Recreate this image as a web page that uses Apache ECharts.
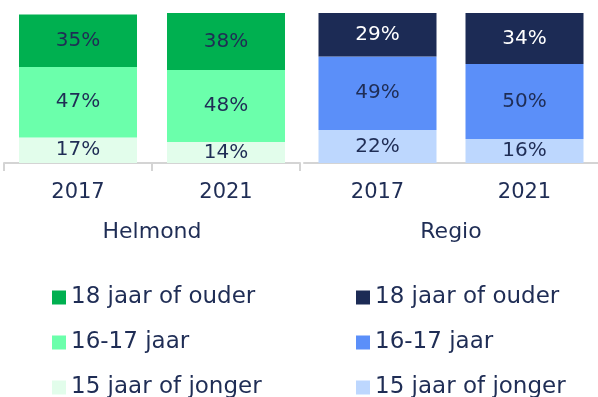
<!DOCTYPE html>
<html>
<head>
<meta charset="utf-8">
<style>
  html, body { margin: 0; padding: 0; background: #ffffff; }
  #chart { width: 598px; height: 397px; }
</style>
<script src="https://cdn.jsdelivr.net/npm/echarts@6/dist/echarts.min.js"></script>
</head>
<body>
<div id="chart"></div>
<script>
// Age of first use, shares per year, Helmond vs. region
const years = ['2017', '2021'];
const groups = ['Helmond', 'Regio'];
const ageClasses = ['18 jaar of ouder', '16-17 jaar', '15 jaar of jonger'];

const helmondYoung = [17, 14];
const helmondMid = [47, 48];
const helmondOld = [35, 38];

const regioYoung = [22, 16];
const regioMid = [49, 50];
const regioOld = [29, 34];

const helmondColors = ['#00b050', '#6bffab', '#e2fdeb'];
const regioColors = ['#1c2b55', '#5b8ff9', '#bdd7fe'];

const textColor = '#1f2d55';
const fontFamily = '"DejaVu Sans", sans-serif';

const chart = echarts.init(document.getElementById('chart'), null, { renderer: 'canvas' });

function bar(group, gridIdx, cls, values, color, labelColor) {
  return {
    type: 'bar',
    name: group + '|' + cls,
    stack: group,
    xAxisIndex: gridIdx * 2,
    yAxisIndex: gridIdx,
    data: values,
    barWidth: 118,
    itemStyle: { color: color },
    label: {
      show: true,
      position: 'inside',
      formatter: '{c}%',
      color: labelColor,
      fontSize: 20,
      fontFamily: fontFamily
    },
    emphasis: { disabled: true }
  };
}

function yearAxis(gridIdx, showTicks) {
  return {
    type: 'category',
    gridIndex: gridIdx,
    data: years,
    axisLine: { show: true, lineStyle: { color: '#d4d4d4', width: 2 } },
    axisTick: { show: showTicks, length: 8, lineStyle: { color: '#d4d4d4', width: 2 } },
    axisLabel: { color: textColor, fontSize: 21, fontFamily: fontFamily, margin: 19 }
  };
}

function groupAxis(gridIdx, name) {
  return {
    type: 'category',
    gridIndex: gridIdx,
    position: 'bottom',
    data: [name],
    axisLine: { show: false },
    axisTick: { show: false },
    axisLabel: { color: textColor, fontSize: 22, fontFamily: fontFamily, margin: 58 }
  };
}

function valueAxis(gridIdx) {
  return {
    type: 'value',
    gridIndex: gridIdx,
    min: 0,
    max: 100,
    show: false
  };
}

function legend(group, left) {
  return {
    orient: 'vertical',
    left: left,
    top: 286,
    height: 140,
    padding: 0,
    itemWidth: 14,
    itemHeight: 14,
    itemGap: 22,
    icon: 'rect',
    selectedMode: false,
    data: ageClasses.map(c => group + '|' + c),
    formatter: name => name.split('|')[1],
    textStyle: { color: textColor, fontSize: 23, fontFamily: fontFamily, lineHeight: 22 }
  };
}

chart.setOption({
  animation: false,
  grid: [
    { left: 4, top: 13, width: 296, height: 150 },
    { left: 304, top: 13, width: 300, height: 150 }
  ],
  xAxis: [
    yearAxis(0, true),
    groupAxis(0, groups[0]),
    yearAxis(1, false),
    groupAxis(1, groups[1])
  ],
  yAxis: [valueAxis(0), valueAxis(1)],
  legend: [legend('Helmond', 52), legend('Regio', 356)],
  series: [
    bar('Helmond', 0, ageClasses[2], helmondYoung, helmondColors[2], textColor),
    bar('Helmond', 0, ageClasses[1], helmondMid, helmondColors[1], textColor),
    bar('Helmond', 0, ageClasses[0], helmondOld, helmondColors[0], textColor),
    bar('Regio', 1, ageClasses[2], regioYoung, regioColors[2], textColor),
    bar('Regio', 1, ageClasses[1], regioMid, regioColors[1], textColor),
    bar('Regio', 1, ageClasses[0], regioOld, regioColors[0], '#ffffff')
  ]
});
</script>
</body>
</html>
